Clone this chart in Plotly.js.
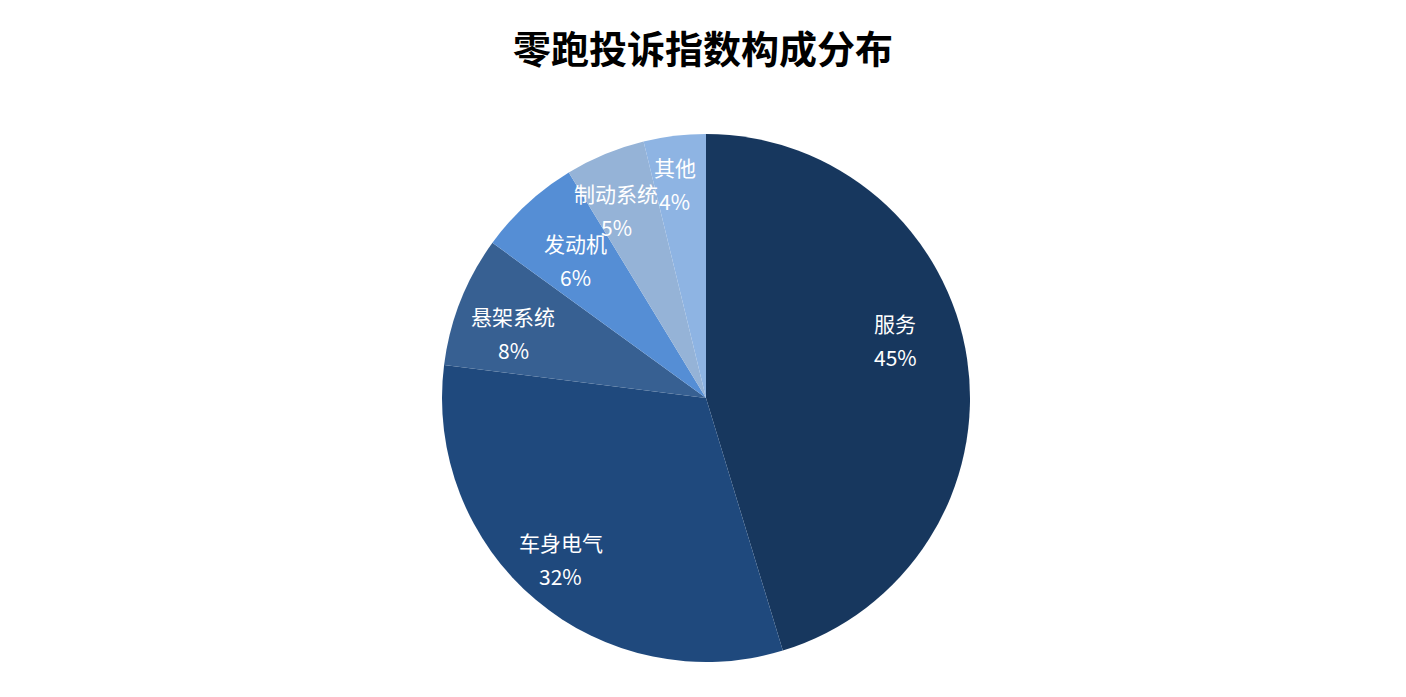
<!DOCTYPE html>
<html>
<head>
<meta charset="utf-8">
<script src="https://cdn.plot.ly/plotly-3.0.1.min.js"></script>
<style>html,body{margin:0;padding:0;background:#fff;}#chart{width:1406px;height:697px;}</style>
</head>
<body>
<div id="chart"></div>
<script>
const categories = ['服务', '车身电气', '悬架系统', '发动机', '制动系统', '其他'];
const shares = [45.3, 31.7, 8.0, 6.3, 4.9, 3.8];
const sliceColors = ['#17375e', '#1f497d', '#376092', '#558ed5', '#95b3d7', '#8eb4e3'];
const chartTitle = '零跑投诉指数构成分布';

// layout: label placement relative to each slice's bisector
const labelRadii = [0.75, 0.82, 0.77, 0.72, 0.79, 0.82];   // fraction of radius
const labelAngleShift = [-8.7, 2, -3, -0.7, -3, -1.5];      // degrees

const W = 1406, H = 697;
const cx = 706, cy = 398, R = 264;
const lineGap = 17;           // half spacing between the name and percent lines
const labelFont = {family: 'Noto Sans CJK SC', size: 21, color: '#ffffff'};

const total = shares.reduce((a, b) => a + b, 0);
const annotations = [];
let cum = 0;
shares.forEach((v, i) => {
  const midDeg = (cum + v / 2) / total * 360 + labelAngleShift[i]; // clockwise from 12 o'clock
  cum += v;
  const a = midDeg * Math.PI / 180;
  const r = labelRadii[i] * R;
  const px = cx + r * Math.sin(a);
  const py = cy - r * Math.cos(a);
  const pct = Math.round(v / total * 100) + '%';
  const base = {xref: 'paper', yref: 'paper', x: px / W, y: 1 - py / H,
                xanchor: 'center', yanchor: 'middle', showarrow: false, font: labelFont};
  annotations.push(Object.assign({}, base, {text: categories[i], yshift: lineGap}));
  annotations.push(Object.assign({}, base, {text: pct, yshift: -lineGap}));
});

Plotly.newPlot('chart', [{
  type: 'pie',
  labels: categories,
  values: shares,
  sort: false,
  direction: 'clockwise',
  rotation: 0,
  marker: {colors: sliceColors, line: {width: 0}},
  textinfo: 'none',
  hoverinfo: 'label+percent',
  domain: {
    x: [(cx - R) / W, (cx + R) / W],
    y: [1 - (cy + R) / H, 1 - (cy - R) / H]
  },
  showlegend: false
}], {
  width: W, height: H,
  margin: {l: 0, r: 0, t: 0, b: 0},
  paper_bgcolor: '#ffffff',
  annotations: annotations,
  title: {
    text: '<b>' + chartTitle + '</b>',
    font: {family: 'Noto Sans CJK SC', size: 38, color: '#000000'},
    x: 0.5, xanchor: 'center', y: 1 - 50 / H, yanchor: 'middle'
  }
}, {displayModeBar: false, staticPlot: true});
</script>
</body>
</html>
